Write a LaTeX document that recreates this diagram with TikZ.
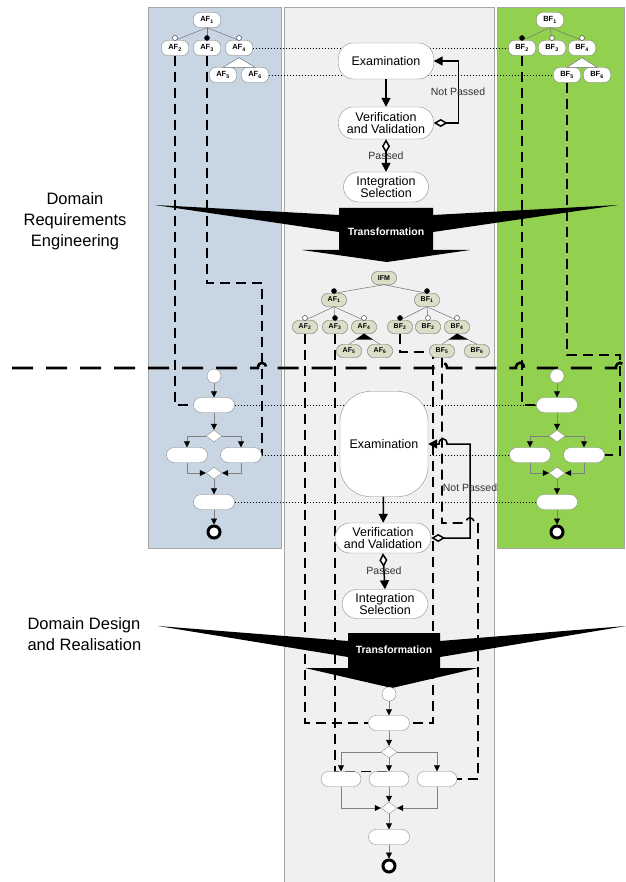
\documentclass[tikz,border=0pt]{standalone}
\usepackage{fontspec}
\setmainfont{Liberation Sans}
\usetikzlibrary{shapes.geometric, arrows.meta, positioning, calc}

\definecolor{laneA}{RGB}{200,214,228}
\definecolor{laneB}{RGB}{146,208,80}
\definecolor{laneI}{RGB}{240,240,240}
\definecolor{ifmfill}{RGB}{218,223,200}

\pgfdeclarelayer{lanes}
\pgfdeclarelayer{wires}
\pgfsetlayers{lanes,wires,main}

\tikzset{
  lane/.style={draw=black!35, line width=0.8pt},
  feat/.style={draw=black!50, fill=white, rounded corners=6pt, minimum width=27pt,
    minimum height=15pt, inner sep=1pt, font=\fontsize{7.5}{8}\selectfont\bfseries},
  ifeat/.style={feat, fill=ifmfill, draw=black!60, minimum width=25pt, minimum height=13pt,
    font=\fontsize{7}{8}\selectfont\bfseries},
  tree/.style={draw=black!55, line width=0.5pt},
  opt/.style={draw=black!70, fill=white, line width=0.5pt},
  mand/.style={fill=black},
  stage/.style={draw=black!45, fill=white, rounded corners=15pt, minimum width=95pt,
    minimum height=32pt, inner sep=1pt, align=center, font=\fontsize{12.5}{12.5}\selectfont},
  act/.style={draw=black!45, fill=white, rounded corners=7.5pt, minimum width=41pt,
    minimum height=15pt, inner sep=0pt},
  dec/.style={diamond, draw=black!45, fill=white, minimum width=16pt, minimum height=12pt, inner sep=0pt},
  startdot/.style={circle, draw=black!45, fill=white, minimum size=14pt, inner sep=0pt},
  enddot/.style={circle, draw=black, fill=white, line width=3pt, minimum size=12pt, inner sep=0pt},
  flow/.style={draw=black!50, line width=0.7pt, -{Triangle[length=6pt,width=6pt,black]}},
  advance/.style={draw=black, line width=1.5pt, -{Triangle[length=9pt,width=9pt]}},
  pass/.style={draw=black, line width=1.5pt,
    {Diamond[fill=white,length=14pt,width=8pt]}-{Triangle[length=9pt,width=9pt]}},
  trace/.style={draw=black, line width=1.6pt, dash pattern=on 10pt off 6pt},
  phase/.style={draw=black, line width=2.6pt, dash pattern=on 21pt off 13pt},
  link/.style={draw=black, line width=0.9pt, dash pattern=on 0.9pt off 2.1pt},
  note/.style={font=\fontsize{10.5}{12}\selectfont, text=black!80},
  xform/.style={fill=black},
  xlabel/.style={text=white, font=\fontsize{10.5}{12}\selectfont\bfseries},
  phaselabel/.style={font=\fontsize{16.5}{21}\selectfont},
}

\begin{document}
\begin{tikzpicture}[x=1pt, y=-1pt]
\useasboundingbox (0,0) rectangle (625,882);

% swim lanes
\begin{pgfonlayer}{lanes}
  \filldraw[lane, fill=laneA] (148,7) rectangle (281,548);
  \filldraw[lane, fill=laneI] (284,7) rectangle (494,890);
  \filldraw[lane, fill=laneB] (497,7) rectangle (624,548);
\end{pgfonlayer}

% feature model A
\node[feat] (a1) at (207,20) {AF\textsubscript{1}};
\node[feat] (a2) at (175,48) {AF\textsubscript{2}};
\node[feat] (a3) at (207,48) {AF\textsubscript{3}};
\node[feat] (a4) at (239,48) {AF\textsubscript{4}};
\node[feat] (a5) at (223,75) {AF\textsubscript{5}};
\node[feat] (a6) at (255,75) {AF\textsubscript{6}};

% feature model B
\node[feat] (b1) at (550,20) {BF\textsubscript{1}};
\node[feat] (b2) at (522,48) {BF\textsubscript{2}};
\node[feat] (b3) at (552,48) {BF\textsubscript{3}};
\node[feat] (b4) at (582,48) {BF\textsubscript{4}};
\node[feat] (b5) at (567,75) {BF\textsubscript{5}};
\node[feat] (b6) at (597,75) {BF\textsubscript{6}};

% integrated feature model
\node[ifeat] (ifm) at (384,278) {IFM};
\node[ifeat] (ia1) at (334,300) {AF\textsubscript{1}};
\node[ifeat] (ib1) at (427,300) {BF\textsubscript{1}};
\node[ifeat] (ia2) at (305,327) {AF\textsubscript{2}};
\node[ifeat] (ia3) at (335,327) {AF\textsubscript{3}};
\node[ifeat] (ia4) at (364,327) {AF\textsubscript{4}};
\node[ifeat] (ib2) at (400,327) {BF\textsubscript{2}};
\node[ifeat] (ib3) at (428,327) {BF\textsubscript{3}};
\node[ifeat] (ib4) at (457,327) {BF\textsubscript{4}};
\node[ifeat] (ia5) at (349,351) {AF\textsubscript{5}};
\node[ifeat] (ia6) at (380,351) {AF\textsubscript{6}};
\node[ifeat] (ib5) at (442,351) {BF\textsubscript{5}};
\node[ifeat] (ib6) at (477,351) {BF\textsubscript{6}};

% tree edges with optional / mandatory markers
\foreach \p/\c/\k in {a1/a2/opt, a1/a3/mand, a1/a4/opt, b1/b2/mand, b1/b3/opt, b1/b4/opt,
    ifm/ia1/mand, ifm/ib1/mand, ia1/ia2/opt, ia1/ia3/mand, ia1/ia4/opt,
    ib1/ib2/mand, ib1/ib3/opt, ib1/ib4/opt} {
  \draw[tree] (\p.south) -- (\c.north);
  \filldraw[\k] ([yshift=2.3pt]\c.north) circle (2.5pt);
}
% alternative groups
\foreach \p/\l/\r in {a4/a5/a6, b4/b5/b6} {
  \draw[tree, fill=white] ([yshift=-2pt]\p.south) -- (\l.north) -- (\r.north) -- cycle;
}
% or groups
\foreach \p/\l/\r in {ia4/ia5/ia6, ib4/ib5/ib6} {
  \draw[tree] (\p.south) -- (\l.north);
  \draw[tree] (\p.south) -- (\r.north);
  \fill[black] (\p.south) -- ($(\p.south)!0.55!(\l.north)$) -- ($(\p.south)!0.55!(\r.north)$) -- cycle;
}

% requirements engineering stages
\node[stage, minimum height=36pt] (ex1) at (386,61) {Examination};
\node[stage] (vv1) at (386,123) {Verification\\and Validation};
\node[stage, minimum width=85pt, minimum height=30pt] (is1) at (386,187) {Integration\\Selection};
\draw[advance] (ex1) -- (vv1);
\draw[pass] (vv1.east) -- ++(25,0) |- (ex1.east);
\draw[pass] (vv1.south) -- (is1.north);
\node[note] at (458,92) {Not Passed};
\node[note] at (386,156) {Passed};

% first transformation
\fill[xform] (339,208) -- (433,208) -- (433,215) -- (618,205) -- (433,232) -- (433,250)
  -- (470,250) -- (387,262) -- (302,250) -- (339,250) -- (339,232) -- (155,205)
  -- (339,215) -- cycle;
\node[xlabel] (xf1) at (386,232) {Transformation};

% activity diagrams A and B
\foreach \s/\cx in {a/214, b/557} {
  \node[startdot] (\s-init) at (\cx,376) {};
  \node[act] (\s-act1) at (\cx,405) {};
  \node[dec] (\s-dec) at (\cx,436) {};
  \node[act] (\s-actL) at ({\cx-27},455) {};
  \node[act] (\s-actR) at ({\cx+27},455) {};
  \node[dec] (\s-mrg) at (\cx,473) {};
  \node[act] (\s-act2) at (\cx,502) {};
  \node[enddot] (\s-end) at (\cx,532) {};
  \draw[flow] (\s-init) -- (\s-act1);
  \draw[flow] (\s-act1) -- (\s-dec);
  \draw[flow] (\s-dec.west) -| (\s-actL.north);
  \draw[flow] (\s-dec.east) -| (\s-actR.north);
  \draw[flow] (\s-actL.south) |- (\s-mrg.west);
  \draw[flow] (\s-actR.south) |- (\s-mrg.east);
  \draw[flow] (\s-mrg) -- (\s-act2);
  \draw[flow] (\s-act2) -- (\s-end);
}

% design stages
\node[stage, minimum width=88pt, minimum height=105pt, rounded corners=30pt] (ex2) at (384,444) {Examination};
\node[stage, minimum width=96pt, minimum height=30pt] (vv2) at (383,538) {Verification\\and Validation};
\node[stage, minimum width=86pt, minimum height=29pt] (is2) at (385,604) {Integration\\Selection};
\draw[advance] (ex2) -- (vv2);
\draw[pass] (vv2.south) -- (is2.north);
\draw[pass] (vv2.east) -- (470,538) -- (470,444) -- (447,444)
  .. controls (447,437) and (439,437) .. (439,444) -- (ex2.east);
\node[note] at (470,488) {Not Passed};
\node[note] at (384,571) {Passed};

% second transformation
\fill[xform] (348,633) -- (440,633) -- (440,641) -- (626,626) -- (440,657) -- (440,668)
  -- (478,668) -- (392,688) -- (305,668) -- (348,668) -- (348,657) -- (158,626)
  -- (348,641) -- cycle;
\node[xlabel] (xf2) at (394,650) {Transformation};

% integrated activity diagram
\node[startdot] (c-init) at (389,694) {};
\node[act] (c-act1) at (389,723) {};
\node[dec] (c-dec) at (389,752) {};
\node[act, minimum width=40pt] (c-actL) at (341,779) {};
\node[act, minimum width=40pt] (c-actM) at (389,779) {};
\node[act, minimum width=40pt] (c-actR) at (437,779) {};
\node[dec] (c-mrg) at (389,808) {};
\node[act] (c-act2) at (389,837) {};
\node[enddot] (c-end) at (389,866) {};
\draw[flow] (c-init) -- (c-act1);
\draw[flow] (c-act1) -- (c-dec);
\draw[flow] (c-dec.west) -| (c-actL.north);
\draw[flow] (c-dec) -- (c-actM);
\draw[flow] (c-dec.east) -| (c-actR.north);
\draw[flow] (c-actL.south) |- (c-mrg.west);
\draw[flow] (c-actM) -- (c-mrg);
\draw[flow] (c-actR.south) |- (c-mrg.east);
\draw[flow] (c-mrg) -- (c-act2);
\draw[flow] (c-act2) -- (c-end);

% phase names
\node[phaselabel, align=center] (p1) at (75,221) {Domain\\Requirements\\Engineering};
\node[phaselabel, align=left, anchor=west] (p2) at (24,634) {Domain Design\\and Realisation};

\begin{pgfonlayer}{wires}
  % feature to activity traces
  \draw[trace] (a2.south) |- (a-act1.west);
  \draw[trace] (a3.south) |- (262,283) |- (a-actR.east);
  \draw[trace] (b2.south) |- (b-act1.west);
  \draw[trace] (b5.south) |- (620,355) |- (b-actR.east);
  \draw[trace] (ia2.south) |- (c-act1.west);
  \draw[trace] (ia3.south) |- (c-actM.north);
  \draw[trace] (ib2.south) |- (433,352) |- (c-act1.east);
  \draw[trace] (ib5.south) |- (466,523) .. controls (466,516) and (474,516) .. (474,523)
    -- (478,523) |- (c-actR.east);
  % correspondences between A and B
  \draw[link] (a4.east) -- (b2.west);
  \draw[link] (a6.east) -- (b5.west);
  \draw[link] (a-act1.east) -- (b-act1.west);
  \draw[link] (a-actR.east) -- (b-actL.west);
  \draw[link] (a-act2.east) -- (b-act2.west);
  % phase border
  \draw[phase] (12,368) -- (258,368) .. controls (258,361) and (266,361) .. (266,368)
    -- (438,368) .. controls (438,361) and (447,361) .. (447,368)
    -- (516,368) .. controls (516,361) and (524,361) .. (524,368)
    -- (616,368) .. controls (616,361) and (624,361) .. (624,368) -- (630,368);
\end{pgfonlayer}
\end{tikzpicture}
\end{document}
